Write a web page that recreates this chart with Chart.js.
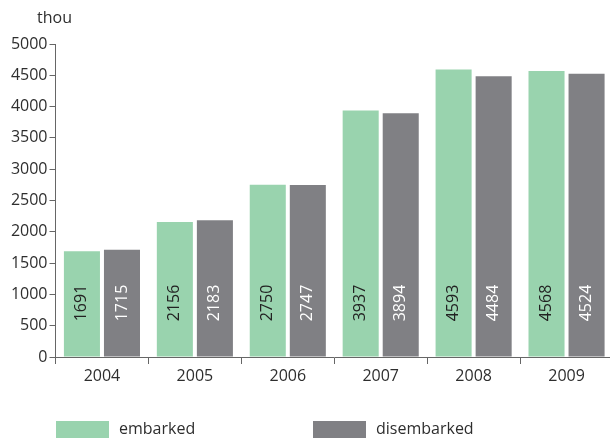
<!DOCTYPE html>
<html>
<head>
<meta charset="utf-8">
<script src="https://cdn.jsdelivr.net/npm/chart.js@4/dist/chart.umd.min.js"></script>
<style>
  html, body { margin: 0; padding: 0; background: #fff; overflow: hidden; }
  #wrap { width: 620px; height: 438px; }
</style>
</head>
<body>
<div id="wrap"><canvas id="paxChart" width="620" height="438"></canvas></div>
<script>
// passengers, thousands
const years = ["2004", "2005", "2006", "2007", "2008", "2009"];
const embarked = [1691, 2156, 2750, 3937, 4593, 4568];
const disembarked = [1715, 2183, 2747, 3894, 4484, 4524];
const seriesNames = ["embarked", "disembarked"];
const unitLabel = "thou";

const GREEN = "#99d3ae";
const GREY = "#808084";
const TEXT = "#2e2e2e";
const FONT = "'Open Sans', 'Liberation Sans', sans-serif";

// numbers written vertically inside each bar, near its foot
const barLabels = {
  id: "barLabels",
  afterDatasetsDraw(chart) {
    const ctx = chart.ctx;
    const y0 = chart.scales.y.getPixelForValue(0);
    chart.data.datasets.forEach((ds, i) => {
      const meta = chart.getDatasetMeta(i);
      meta.data.forEach((bar, j) => {
        ctx.save();
        ctx.translate(bar.x, y0 - 54);
        ctx.rotate(-Math.PI / 2);
        ctx.font = "16px " + FONT;
        ctx.fillStyle = i === 0 ? "#222" : "#fff";
        ctx.textAlign = "center";
        ctx.textBaseline = "middle";
        ctx.fillText(String(ds.data[j]), 0, 0);
        ctx.restore();
      });
    });
  }
};

// unit caption above the value axis and the legend row at the bottom
const extras = {
  id: "extras",
  afterDraw(chart) {
    const ctx = chart.ctx;
    ctx.save();
    ctx.font = "16px " + FONT;
    ctx.fillStyle = TEXT;
    ctx.textBaseline = "middle";
    ctx.textAlign = "left";
    ctx.fillText(unitLabel, 37, 18);

    const slots = [56, 313];
    chart.data.datasets.forEach((ds, i) => {
      const x = slots[i];
      ctx.fillStyle = ds.backgroundColor;
      ctx.fillRect(x, 421, 53, 17);
      ctx.fillStyle = TEXT;
      ctx.fillText(ds.label, x + 63, 429);
    });
    ctx.restore();
  }
};

new Chart(document.getElementById("paxChart"), {
  type: "bar",
  data: {
    labels: years,
    datasets: [
      { label: seriesNames[0], data: embarked, backgroundColor: GREEN },
      { label: seriesNames[1], data: disembarked, backgroundColor: GREY }
    ]
  },
  options: {
    responsive: false,
    animation: false,
    events: [],
    datasets: {
      bar: { categoryPercentage: 0.862, barPercentage: 0.9 }
    },
    layout: { padding: { left: 0, right: 7, top: 44, bottom: 51 } },
    plugins: {
      legend: { display: false },
      title: { display: false },
      tooltip: { enabled: false }
    },
    scales: {
      x: {
        grid: {
          display: true,
          drawOnChartArea: false,
          drawTicks: true,
          tickLength: 7,
          color: "#666",
          offset: true
        },
        border: { display: true, color: "#666", width: 1 },
        ticks: {
          color: TEXT,
          font: { family: FONT, size: 16 },
          padding: 3
        },
        afterFit(scale) { scale.height = 30; }
      },
      y: {
        min: 0,
        max: 5000,
        grid: {
          display: true,
          drawOnChartArea: false,
          drawTicks: true,
          tickLength: 6,
          color: "#666"
        },
        border: { display: true, color: "#666", width: 1 },
        ticks: {
          stepSize: 500,
          color: TEXT,
          font: { family: FONT, size: 16 },
          padding: 2,
          callback: (v) => String(v)
        },
        afterFit(scale) { scale.width = 55.5; }
      }
    }
  },
  plugins: [barLabels, extras]
});
</script>
</body>
</html>
